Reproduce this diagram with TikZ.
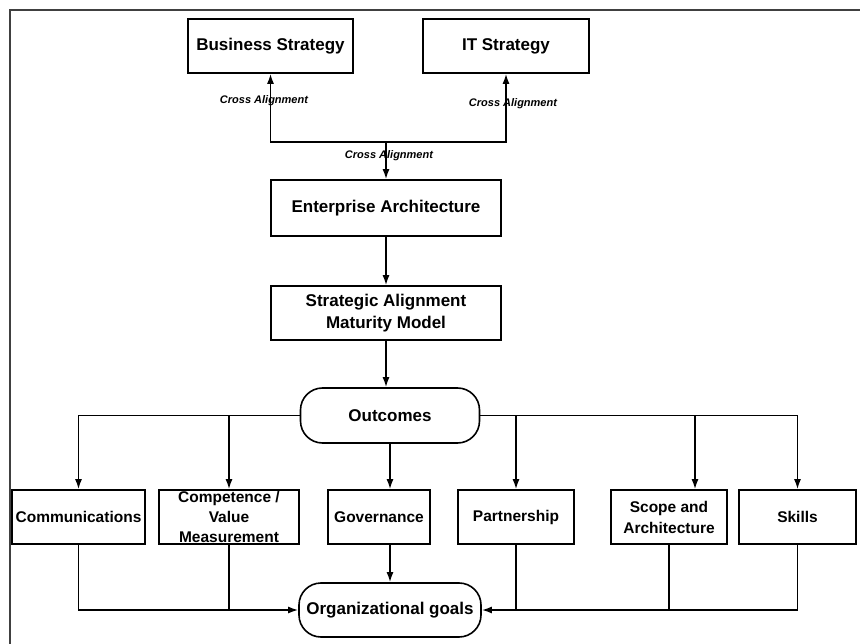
\documentclass[tikz,border=0pt]{standalone}
\usepackage{fontspec}
\setmainfont{Liberation Sans}
\usetikzlibrary{arrows.meta,calc}
\begin{document}
\begin{tikzpicture}[x=1pt,y=-1pt,
  box/.style={draw=black, line width=1.6pt, inner sep=0pt, align=center,
    minimum height=54pt, font=\bfseries\fontsize{15.5}{21}\selectfont},
  bigbox/.style={box, font=\bfseries\fontsize{17}{22}\selectfont},
  pill/.style={bigbox, rounded corners=22pt},
  link/.style={line width=1.6pt},
  arr/.style={link, -{Latex[length=10pt,width=7pt]}},
  tag/.style={font=\bfseries\itshape\fontsize{11}{13}\selectfont, inner sep=0pt},
]
\useasboundingbox (0,0) rectangle (860,644);
% page frame
\draw[line width=2pt, draw=black!75] (10,644) -- (10,10) -- (860,10);

% strategy level
\node[bigbox, minimum width=165pt] (bs) at (270.5,46) {Business Strategy};
\node[bigbox, minimum width=166pt] (it) at (506,46) {IT Strategy};
\node[bigbox, minimum width=230pt, minimum height=56pt] (ea) at (386,208) {Enterprise Architecture};
\node[bigbox, minimum width=230pt] (samm) at (386,313) {Strategic Alignment\\Maturity Model};
\node[pill, minimum width=179pt, minimum height=55pt] (out) at (390,415.5) {Outcomes};

% alignment criteria
\node[box, minimum width=133pt] (comm) at (78.5,517) {Communications};
\node[box, minimum width=140pt, font=\bfseries\fontsize{15.5}{20}\selectfont] (comp) at (229,517) {Competence /\\Value\\Measurement};
\node[box, minimum width=102pt] (gov) at (379,517) {Governance};
\node[box, minimum width=116pt] (part) at (516,517) {Partnership};
\node[box, minimum width=116pt] (scope) at (669,517) {Scope and\\Architecture};
\node[box, minimum width=117pt] (skills) at (797.5,517) {Skills};
\node[pill, minimum width=182pt] (org) at (390,610) {Organizational goals};

% cross alignment links
\coordinate (j) at (386,142);
\draw[arr] (j) -| (bs.south);
\draw[arr] (j) -| (it.south);
\draw[arr] (j) -- (ea.north);
\node[tag] (ca1) at (264,101) {Cross Alignment};
\node[tag] (ca2) at (513,104) {Cross Alignment};
\node[tag] (ca3) at (389,156) {Cross Alignment};

% main chain
\draw[arr] (ea.south) -- (samm.north);
\draw[arr] (samm.south) -- (samm.south |- out.north);

% fan-out from outcomes
\draw[arr] (out.west) -| (comm.north);
\draw[arr] (comp.north |- out.west) -- (comp.north);
\draw[arr] (out.south) -- (out.south |- gov.north);
\draw[arr] (out.east) -| (skills.north);
\draw[arr] (part.north |- out.east) -- (part.north);
\draw[arr] ([xshift=26pt]scope.north |- out.east) -- ([xshift=26pt]scope.north);

% fan-in to organizational goals
\draw[arr] (comm.south) |- (org.west);
\draw[link] (comp.south) -- (comp.south |- org.west);
\draw[arr] (org.north |- gov.south) -- (org.north);
\draw[arr] (skills.south) |- (org.east);
\draw[link] (part.south) -- (part.south |- org.east);
\draw[link] (scope.south) -- (scope.south |- org.east);
\end{tikzpicture}
\end{document}
